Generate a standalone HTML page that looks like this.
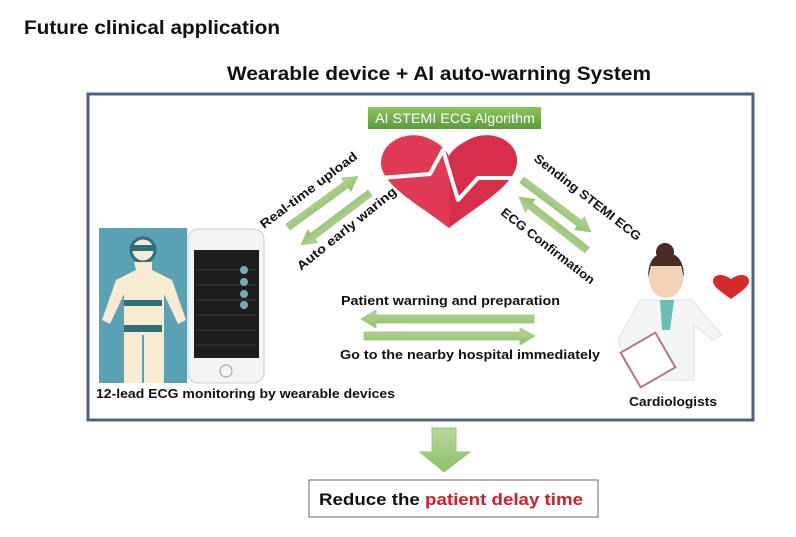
<!DOCTYPE html>
<html><head><meta charset="utf-8"><style>
html,body{margin:0;padding:0;background:#fff;}
svg{display:block;font-family:"Liberation Sans",sans-serif;}
.t{font-weight:bold;fill:#111;}
</style></head><body>
<svg width="796" height="537" viewBox="0 0 796 537">
<defs>
<linearGradient id="g" x1="0" y1="0" x2="0" y2="1"><stop offset="0" stop-color="#b7d89a"/><stop offset="1" stop-color="#8fbf6a"/></linearGradient>
<linearGradient id="lab" x1="0" y1="0" x2="0" y2="1"><stop offset="0" stop-color="#8cc45e"/><stop offset="1" stop-color="#5c9a3a"/></linearGradient>
<g id="arr"><polygon points="0,-3.5 72,-3.5 72,-8 86,0 72,8 72,3.5 0,3.5" fill="url(#g)" stroke="#9cc57e" stroke-width="0.8"/></g>
</defs>
<text x="24" y="34" font-size="19" class="t" textLength="256" lengthAdjust="spacingAndGlyphs">Future clinical application</text>
<text x="227" y="80" font-size="19" class="t" textLength="424" lengthAdjust="spacingAndGlyphs">Wearable device + AI auto-warning System</text>
<rect x="88" y="94" width="665" height="326" fill="#fff" stroke="#4d6184" stroke-width="3"/>
<rect x="368" y="107" width="173" height="22" fill="url(#lab)"/>
<text x="375" y="123" font-size="13.5" fill="#fff" textLength="160" lengthAdjust="spacingAndGlyphs">AI STEMI ECG Algorithm</text>
<path d="M449,228 C420,205 380,185 381,162 C382,140 410,128 432,140 C440,144 446,150 449,156 C452,150 460,144 468,140 C490,128 518,140 517,162 C516,185 478,205 449,228 Z" fill="#e13a55"/>
<path d="M449,156 C452,150 460,144 468,140 C490,128 518,140 517,162 C516,185 478,205 449,228 Z" fill="#d12842" opacity="0.6"/>
<polyline points="381,178 430,174 443,150 458,200 478,178 517,178" fill="none" stroke="#fff" stroke-width="4" stroke-linejoin="round"/>
<!-- left arrows -->
<g transform="translate(288,227) rotate(-36)"><use href="#arr"/></g>
<g transform="translate(370,193) rotate(143)"><use href="#arr"/></g>
<text transform="translate(264,229) rotate(-37)" font-size="12.5" class="t" textLength="118" lengthAdjust="spacingAndGlyphs">Real-time upload</text>
<text transform="translate(301,271) rotate(-39)" font-size="12.5" class="t" textLength="124" lengthAdjust="spacingAndGlyphs">Auto early waring</text>
<!-- right arrows -->
<g transform="translate(522,180) rotate(37)"><use href="#arr"/></g>
<g transform="translate(587,250) rotate(218)"><use href="#arr"/></g>
<text transform="translate(533,160) rotate(38)" font-size="12.5" class="t" textLength="132" lengthAdjust="spacingAndGlyphs">Sending STEMI ECG</text>
<text transform="translate(500,214) rotate(38)" font-size="12.5" class="t" textLength="115" lengthAdjust="spacingAndGlyphs">ECG Confirmation</text>
<!-- horizontal -->
<text x="341" y="305" font-size="12.5" class="t" textLength="219" lengthAdjust="spacingAndGlyphs">Patient warning and preparation</text>
<polygon points="534,315 376,315 376,310 361,319 376,328 376,323 534,323" fill="url(#g)" stroke="#9cc57e" stroke-width="0.8"/>
<polygon points="364,332 520,332 520,328 535,336 520,345 520,340 364,340" fill="url(#g)" stroke="#9cc57e" stroke-width="0.8"/>
<text x="340" y="359" font-size="12.5" class="t" textLength="260" lengthAdjust="spacingAndGlyphs">Go to the nearby hospital immediately</text>
<!-- person panel -->
<rect x="99" y="228" width="88" height="155" fill="#5aa2b3"/>
<circle cx="143" cy="250" r="12" fill="#f7ecd2" stroke="#2e6f78" stroke-width="3"/>
<rect x="130" y="245" width="26" height="6" fill="#2e6f78"/>
<path d="M134,262 h18 v8 l20,10 l14,40 l-8,4 l-14,-30 v16 l0,73 h-40 v-73 v-16 l-14,30 l-8,-4 l14,-40 l20,-10 z" fill="#f7ecd2"/>
<rect x="124" y="300" width="38" height="6" fill="#2e6f78"/>
<rect x="124" y="325" width="38" height="7" fill="#2e6f78"/>
<rect x="142" y="335" width="2" height="48" fill="#5aa2b3"/>
<rect x="188" y="229" width="76" height="154" rx="10" fill="#f4f4f4" stroke="#ccc"/>
<rect x="194" y="250" width="65" height="108" fill="#1e1e1e"/>
<g stroke="#3a6a4a" stroke-width="0.6">
<line x1="196" y1="270" x2="256" y2="270"/><line x1="196" y1="285" x2="256" y2="285"/><line x1="196" y1="300" x2="256" y2="300"/><line x1="196" y1="315" x2="256" y2="315"/><line x1="196" y1="330" x2="256" y2="330"/><line x1="196" y1="345" x2="256" y2="345"/></g>
<circle cx="244" cy="270" r="4" fill="#7ab"/><circle cx="244" cy="282" r="4" fill="#7ab"/><circle cx="244" cy="294" r="4" fill="#7ab"/><circle cx="244" cy="305" r="4" fill="#7ab"/>
<circle cx="226" cy="371" r="6" fill="none" stroke="#999"/>
<text x="96" y="398" font-size="12.5" class="t" textLength="299" lengthAdjust="spacingAndGlyphs">12-lead ECG monitoring by wearable devices</text>
<!-- doctor -->
<circle cx="665" cy="252" r="9" fill="#4a2a22"/>
<ellipse cx="666" cy="278" rx="17" ry="20" fill="#f3d3b8"/>
<path d="M648,278 q0,-25 18,-25 q18,0 18,25 l-3,-12 h-30 z" fill="#4a2a22"/>
<path d="M640,300 h52 l30,35 l-10,5 l-18,-15 v55 h-52 l-14,-10 l-10,-30 z" fill="#f3f5f7" stroke="#dde2e6"/>
<path d="M660,300 h14 l-4,30 h-8 z" fill="#6bbdb5"/>
<rect x="628" y="340" width="40" height="40" transform="rotate(-30 648 360)" fill="#fff" stroke="#b57a7a" stroke-width="2"/>
<path d="M731,299 C723,293 713,287 713,281 C713,275 721,272 731,279 C741,272 749,275 749,281 C749,287 739,293 731,299 Z" fill="#d62a2a"/>
<text x="629" y="406" font-size="12.5" class="t" textLength="88" lengthAdjust="spacingAndGlyphs">Cardiologists</text>
<polygon points="432,428 456,428 456,452 470,452 444,472 420,452 432,452" fill="url(#g)" stroke="#9cc57e"/>
<rect x="309" y="480" width="289" height="37" fill="#fff" stroke="#666"/>
<text x="319" y="505" font-size="16.5" class="t" textLength="264" lengthAdjust="spacingAndGlyphs">Reduce the <tspan fill="#d0202a">patient delay time</tspan></text>
</svg>
</body></html>
